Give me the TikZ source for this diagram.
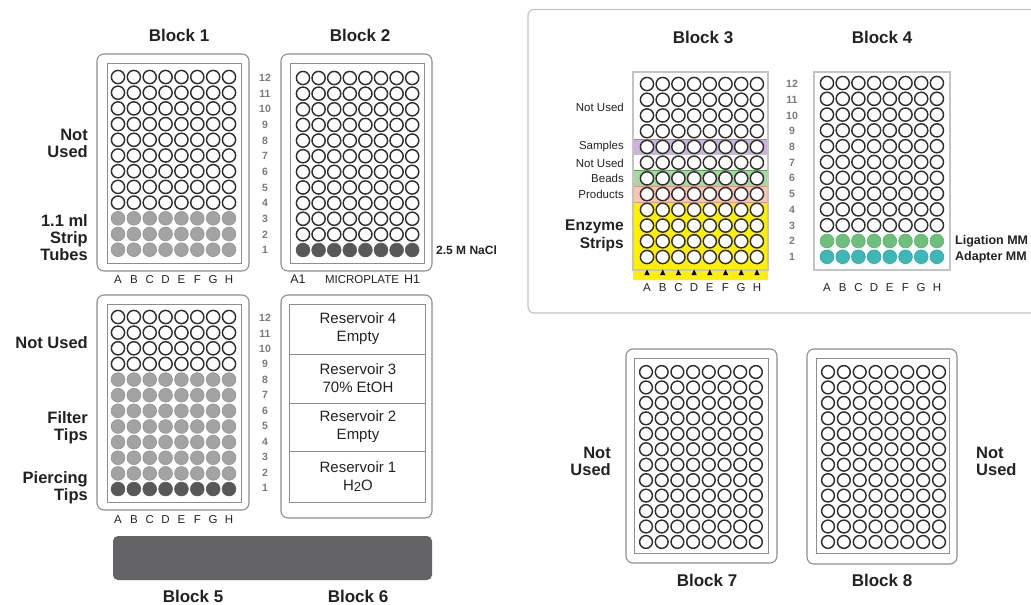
\documentclass[tikz,border=0pt]{standalone}
\usepackage{fontspec}
\setmainfont{Liberation Sans}
\definecolor{wellline}{HTML}{2E2E2E}
\definecolor{wellgray}{HTML}{A3A3A3}
\definecolor{welldark}{HTML}{58585A}
\definecolor{barcol}{HTML}{636366}
\definecolor{platecol}{HTML}{8E8E8E}
\definecolor{lightframe}{HTML}{C4C4C4}
\definecolor{numcol}{HTML}{7A7A7A}
\definecolor{txtcol}{HTML}{222222}
\definecolor{bandpurple}{HTML}{CBB3DB}
\definecolor{bandpurpled}{HTML}{9C82B2}
\definecolor{bandgreen}{HTML}{A9D6A3}
\definecolor{bandgreend}{HTML}{5E9E60}
\definecolor{bandpink}{HTML}{F6C6B6}
\definecolor{bandpinkd}{HTML}{D49A88}
\definecolor{bandyellow}{HTML}{FFF000}
\definecolor{ligcol}{HTML}{6DC07A}
\definecolor{adacol}{HTML}{3DB8B5}
\tikzset{
  well/.style={draw=wellline, line width=1.45pt, fill=white},
  wellg/.style={draw=wellgray!90!black, line width=0.6pt, fill=wellgray},
  welld/.style={draw=welldark, line width=0.6pt, fill=welldark},
  welllig/.style={draw=ligcol!90!black, line width=0.6pt, fill=ligcol},
  wellada/.style={draw=adacol!90!black, line width=0.6pt, fill=adacol},
  plateout/.style={draw=platecol, line width=1.1pt, rounded corners=7pt},
  platein/.style={draw=platecol, line width=1pt},
  rackbox/.style={draw=lightframe, line width=1.2pt},
  title/.style={font=\fontsize{17}{20}\selectfont\bfseries, text=txtcol, inner sep=0pt},
  sidelab/.style={font=\fontsize{16.5}{17}\selectfont\bfseries, text=txtcol, inner sep=0pt},
  smalllab/.style={font=\fontsize{11.5}{13}\selectfont, text=txtcol, inner sep=0pt, anchor=east},
  tinybold/.style={font=\fontsize{12.5}{14}\selectfont\bfseries, text=txtcol, inner sep=0pt, anchor=west},
  rownum/.style={font=\fontsize{10.5}{12}\selectfont\bfseries, text=numcol, inner sep=0pt},
  collab/.style={font=\fontsize{11.5}{13}\selectfont, text=txtcol, inner sep=0pt},
  reslab/.style={font=\fontsize{15}{18}\selectfont, text=txtcol, inner sep=0pt, align=center},
}
% x0, y0, dx, dy, fromrow, torow, style, radius
\newcommand\wellrows[8]{%
  \foreach \r in {#5,...,#6}{\foreach \c in {0,...,7}{%
    \path[#7] ({#1+\c*#3},{#2+(\r-1)*#4}) circle[radius=#8];}}}
% name, x0, dx, y
\newcommand\collabels[4]{%
  \foreach \L [count=\c from 0] in {A,B,C,D,E,F,G,H}{%
    \node[collab] (#1-\L) at ({#2+\c*#3},#4) {\L};}}
% name, x, y0, dy
\newcommand\rownums[4]{%
  \foreach \n in {12,11,...,1}{%
    \node[rownum] (#1-\n) at (#2,{#3+(12-\n)*#4}) {\n};}}
\begin{document}
\begin{tikzpicture}[x=1pt,y=-1pt]
\useasboundingbox (0,0) rectangle (1031,605);

% ---------------- Block 1 ----------------
\node[title] (t1) at (179,35) {Block 1};
\draw[plateout] (97,54) rectangle (249,271);
\draw[platein] (107,63) rectangle (241,263);
\wellrows{118}{77}{15.86}{15.7}{1}{9}{well}{6.6}
\wellrows{118}{77}{15.86}{15.7}{10}{12}{wellg}{6.9}
\collabels{b1}{118}{15.86}{280}
\node[sidelab, anchor=east, align=right] (l1a) at (88,143) {Not\\Used};
\node[sidelab, anchor=east, align=right] (l1b) at (88,238) {1.1 ml\\Strip\\Tubes};

% row numbers between block 1 and 2
\rownums{rA}{265}{78}{15.64}

% ---------------- Block 2 ----------------
\node[title] (t2) at (360,35) {Block 2};
\draw[plateout] (281,54) rectangle (432,271);
\draw[platein] (290,63) rectangle (424,263);
\wellrows{303}{78}{15.6}{15.64}{1}{11}{well}{6.6}
\wellrows{303}{78}{15.6}{15.64}{12}{12}{welld}{6.9}
\node[tinybold, font=\fontsize{12}{14}\selectfont\bfseries] (nacl) at (436,250) {2.5 M NaCl};
\node[collab, font=\fontsize{12.5}{14}\selectfont, anchor=base] (a1) at (298,283) {A1};
\node[collab, anchor=base] (mp) at (362,283) {MICROPLATE};
\node[collab, font=\fontsize{12.5}{14}\selectfont, anchor=base] (h1) at (412,283) {H1};

% ---------------- Block 5 ----------------
\draw[plateout] (97,295) rectangle (249,510);
\draw[platein] (107,304) rectangle (241,502);
\wellrows{118}{317}{15.86}{15.64}{1}{4}{well}{6.6}
\wellrows{118}{317}{15.86}{15.64}{5}{11}{wellg}{6.9}
\wellrows{118}{317}{15.86}{15.64}{12}{12}{welld}{6.9}
\collabels{b5}{118}{15.86}{520}
\node[sidelab, anchor=east, align=right] (l5a) at (88,343) {Not Used};
\node[sidelab, anchor=east, align=right] (l5b) at (88,428) {Filter\\Tips};
\node[sidelab, anchor=east, align=right] (l5c) at (88,488) {Piercing\\Tips};

\rownums{rB}{265}{318}{15.45}

% ---------------- Block 6 ----------------
\draw[plateout] (281,295) rectangle (432,518);
\draw[platein] (289,304) rectangle (425,502);
\draw[platein] (289,354) -- (425,354);
\draw[platein] (289,403) -- (425,403);
\draw[platein] (289,451) -- (425,451);
\node[reslab] (r4) at (358,329) {Reservoir 4\\Empty};
\node[reslab] (r3) at (358,378.5) {Reservoir 3\\70\% EtOH};
\node[reslab] (r2) at (358,427) {Reservoir 2\\Empty};
\node[reslab] (r1) at (358,476.5) {Reservoir 1\\H\raisebox{-1.5pt}{\fontsize{13}{13}\selectfont 2}O};

% dark bar
\path[fill=barcol, rounded corners=5pt] (113,536) rectangle (432,580);
\node[title] (t5) at (193,596) {Block 5};
\node[title] (t6) at (358,596) {Block 6};

% ---------------- right frame ----------------
\draw[draw=lightframe, line width=1.2pt, rounded corners=6pt]
  (1040,9.5) -- (528,9.5) -- (528,313) -- (1040,313);

% ---------------- Block 3 ----------------
\node[title] (t3) at (703,37) {Block 3};
\path[fill=bandyellow] (633,202) rectangle (768,280);
\draw[fill=bandpurple, draw=bandpurpled, line width=0.8pt] (633,139) rectangle (768,154.8);
\draw[draw=lightframe, line width=0.8pt] (633,154.8) rectangle (768,170.5);
\draw[fill=bandgreen, draw=bandgreend, line width=0.8pt] (633,170.5) rectangle (768,186.2);
\draw[fill=bandpink, draw=bandpinkd, line width=0.8pt] (633,186.2) rectangle (768,202);
\draw[rackbox] (633,72) rectangle (768,270);
\wellrows{647}{84}{15.7}{15.73}{1}{12}{well}{6.6}
\foreach \c in {0,...,7}{%
  \fill[black] ({647+\c*15.7},269.5) -- ({647+\c*15.7-2.6},275) -- ({647+\c*15.7+2.6},275) -- cycle;}
\collabels{b3}{647}{15.7}{288}
\node[smalllab] (s1) at (624,107) {Not Used};
\node[smalllab] (s2) at (624,147) {Samples};
\node[smalllab] (s3) at (624,163) {Not Used};
\node[smalllab] (s4) at (624,178) {Beads};
\node[smalllab] (s5) at (624,194) {Products};
\node[anchor=east, align=right, inner sep=0pt, text=txtcol,
      font=\fontsize{15.5}{18}\selectfont\bfseries] (enz) at (624,236) {Enzyme\\Strips};

\rownums{rC}{792}{84}{15.73}

% ---------------- Block 4 ----------------
\node[title] (t4) at (882,37) {Block 4};
\draw[rackbox] (814,72) rectangle (950,270);
\wellrows{827}{83}{15.7}{15.8}{1}{10}{well}{6.6}
\wellrows{827}{83}{15.7}{15.8}{11}{11}{welllig}{6.9}
\wellrows{827}{83}{15.7}{15.8}{12}{12}{wellada}{6.9}
\collabels{b4}{827}{15.7}{288}
\node[tinybold] (lig) at (955,241) {Ligation MM};
\node[tinybold] (ada) at (955,257) {Adapter MM};

% ---------------- Block 7 ----------------
\draw[plateout] (626,349) rectangle (777,563);
\draw[platein] (634,358) rectangle (768,553);
\wellrows{646}{372}{15.7}{15.45}{1}{12}{well}{6.4}
\node[sidelab, anchor=east, align=right] (l7) at (611,461) {Not\\Used};
\node[title] (t7) at (707,580) {Block 7};

% ---------------- Block 8 ----------------
\draw[plateout] (807,349) rectangle (957,564);
\draw[platein] (816,358) rectangle (949,553);
\wellrows{828}{372}{15.86}{15.45}{1}{12}{well}{6.4}
\node[sidelab, anchor=west, align=left] (l8) at (976,461) {Not\\Used};
\node[title] (t8) at (882,580) {Block 8};
\end{tikzpicture}
\end{document}
